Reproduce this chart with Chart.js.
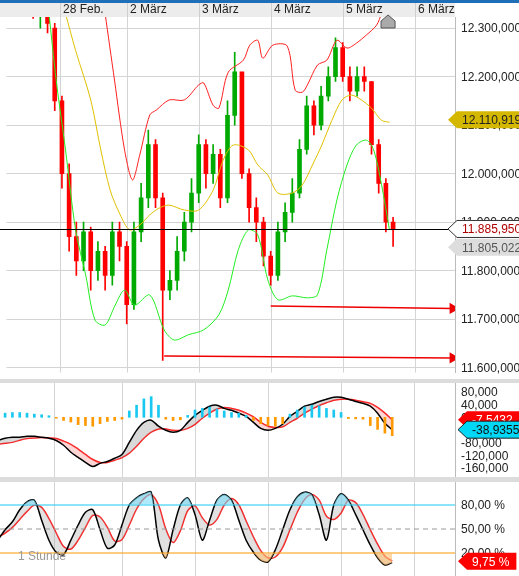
<!DOCTYPE html>
<html>
<head>
<meta charset="utf-8">
<script src="https://cdn.jsdelivr.net/npm/chart.js@4"></script>
<style>
body { margin: 0; background: #fff; }
#wrap { position: relative; width: 519px; height: 576px; background: #dcdcdc; }
.pane { position: absolute; left: 0; width: 519px; background: #fff; }
</style>
</head>
<body>
<div id="wrap">
  <div class="pane" style="top:0;height:379px"><canvas id="main" width="519" height="379"></canvas></div>
  <div class="pane" style="top:383px;height:94px"><canvas id="macd" width="519" height="94"></canvas></div>
  <div class="pane" style="top:482px;height:94px"><canvas id="stoch" width="519" height="94"></canvas></div>
</div>
<script>
const dateLabels = ["28 Feb.", "2 März", "3 März", "4 März", "5 März", "6 März"];
const datePos = [3.7, 13, 23, 33, 43, 53];

const opens = [12360,12330,12340,12300,12150,12000,11870,11820,11880,11800,11840,11790,11880,11850,11730,11880,11950,12060,11950,11760,11780,11840,11900,11960,12060,12000,12040,11950,12120,12210,12000,11930,11900,11830,11790,11880,11920,11960,12050,12140,12100,12160,12200,12260,12200,12170,12200,12190,12060,11980,11900];
const closes = [12330,12340,12310,12150,12000,11870,11820,11880,11800,11840,11790,11880,11850,11730,11880,11950,12060,11950,11760,11780,11840,11900,11960,12060,12000,12040,11950,12120,12210,12000,11930,11900,11830,11790,11880,11920,11960,12050,12140,12100,12160,12200,12260,12200,12170,12200,12190,12060,11980,11900,11886];
const highs = [12380,12360,12350,12310,12160,12020,11900,11900,11890,11860,11850,11900,11900,11860,11900,11980,12090,12070,11960,11800,11870,11920,11990,12080,12070,12060,12050,12150,12250,12200,12010,11950,11910,11840,11900,11940,11990,12070,12160,12150,12180,12220,12280,12270,12220,12220,12220,12190,12070,11990,11910];
const lows = [12320,12300,12290,12130,11970,11840,11790,11800,11760,11780,11760,11770,11820,11690,11720,11860,11930,11930,11615,11740,11760,11820,11880,11940,11970,11980,11930,11940,12100,11990,11900,11860,11810,11770,11780,11860,11900,11950,12040,12080,12090,12150,12190,12190,12150,12160,12170,12040,11960,11880,11850];

// Bollinger bands: [candle index, value]
const upperBand = [[10,12330],[11.3,12193],[12.7,12049],[13.8,11987],[14.8,12038],[16.2,12121],[17.1,12131],[18.9,12152],[21,12152],[23,12183],[23.7,12187],[25,12141],[25.8,12135],[27.1,12209],[29.2,12234],[30.1,12265],[31.2,12275],[31.9,12238],[33.3,12265],[35.3,12263],[36.4,12172],[37.4,12168],[38.1,12183],[39.5,12224],[40.8,12234],[42.2,12275],[43.6,12259],[44.9,12269],[46.3,12286],[47.7,12306],[48.4,12330]];
const midBand = [[4.5,12330],[5.9,12254],[8,12152],[9.4,12049],[10.7,11966],[12.1,11915],[13.4,11884],[14.8,11894],[16.2,11915],[17.5,11929],[18.9,11935],[21,11925],[23,11925],[25,11966],[26.4,12028],[27.8,12059],[29.9,12049],[31.2,12018],[32.6,11997],[34,11960],[36,11960],[37.4,11977],[38.8,12018],[40.1,12059],[41.5,12110],[42.9,12152],[44.2,12162],[45.6,12152],[47,12135],[48.4,12110],[49.5,12106]];
const lowerBand = [[2.2,12330],[3.2,12193],[4.5,12049],[5.9,11884],[7.3,11791],[8.6,11698],[10,11688],[11.4,11729],[12.7,11760],[14.1,11729],[16.2,11750],[18.2,11678],[19.6,11657],[21.6,11668],[23.7,11678],[25.8,11709],[27.1,11760],[28.5,11843],[29.9,11884],[31.2,11874],[32.6,11781],[34,11740],[36,11748],[38.1,11744],[39.5,11750],[40.8,11843],[42.2,11946],[43.6,12018],[44.9,12059],[46.3,12069],[47.3,12049],[48.4,11977],[49.5,11884]];

const arrowHigh = [[33, 11727], [58.3, 11722]];
const arrowLow = [[18.2, 11624], [58.3, 11620]];

// indicators, candle index -4 .. 50
const macdLine = [-73,-66,-63,-63,-60,-60,-63,-66,-73,-88,-110,-126,-142,-155,-145,-139,-129,-117,-79,-41,-16,-9,-28,-41,-47,-41,-16,6,22,35,38,28,22,13,3,-16,-35,-41,-35,-22,3,19,35,41,50,57,63,63,57,50,44,35,13,-19,-39];
const signalLine = [-85,-82,-79,-72,-67,-65,-64,-65,-67,-75,-85,-100,-117,-133,-142,-142,-135,-127,-113,-91,-66,-47,-37,-37,-41,-41,-35,-22,-3,13,26,31,28,22,13,1,-16,-28,-32,-30,-16,-3,13,26,37,46,54,57,57,54,49,44,31,13,-8];
const macdHist = [13,13,15,15,13,10,8,5,-3,-10,-15,-23,-26,-28,-20,-13,-10,-6,20,38,58,65,38,-6,-10,-8,6,23,28,32,26,20,15,13,6,-10,-20,-26,-28,-20,10,23,32,38,36,28,23,15,-4,-5,-6,-26,-38,-50,-58];
const stochK = [36,49,59,74,84,86,61,36,21,18,36,55,71,74,49,26,30,55,80,89,94,96,36,14,49,80,89,68,36,61,86,93,86,61,36,21,11,9,24,49,74,90,96,93,68,36,80,94,86,68,49,30,14,5,8];
const stochD = [40,45,52,62,72,80,77,63,45,28,25,36,52,67,65,52,35,37,55,75,88,93,80,50,33,48,73,79,64,55,62,80,88,80,60,40,23,14,15,27,49,71,87,93,86,66,62,70,86,83,68,49,31,16,10];

const mainTicks = [11600, 11700, 11800, 11900, 12000, 12100, 12200, 12300];
const macdTicks = [80, 40, 0, -40, -80, -120, -160];
const stochTicks = [80, 50, 20];

const X_MIN = -3.7, X_MAX = 58.6;
const fmt = (v, d) => v.toLocaleString('de-DE', { minimumFractionDigits: d, maximumFractionDigits: d });
const pts = arr => arr.map(p => ({ x: p[0], y: p[1] }));
const ind = arr => arr.map((v, i) => ({ x: i - 4, y: v }));

const xScale = () => ({ type: 'linear', min: X_MIN, max: X_MAX, offset: false, display: false });

function yScale(min, max, tickList, showGrid) {
    return {
        position: 'right', min: min, max: max,
        afterFit: s => { s.width = 64; },
        afterBuildTicks: s => { s.ticks = tickList.map(v => ({ value: v })); },
        ticks: { display: false },
        grid: { display: showGrid, color: '#d4d4d4', drawTicks: false },
        border: { color: '#bbb' }
    };
}

// vertical day separators
const dayLines = {
    id: 'dayLines',
    beforeDatasetsDraw(chart) {
        const ctx = chart.ctx, xs = chart.scales.x, a = chart.chartArea;
        ctx.save();
        ctx.fillStyle = '#d4d4d4';
        datePos.forEach(v => ctx.fillRect(Math.round(xs.getPixelForValue(v)), a.top, 1, a.bottom - a.top));
        ctx.restore();
    }
};

function axisLabels(chart, list, cb) {
    const ctx = chart.ctx, ys = chart.scales.y;
    ctx.save();
    ctx.font = '12px Liberation Sans'; ctx.fillStyle = '#222'; ctx.textBaseline = 'middle';
    list.forEach(v => ctx.fillText(cb(v), 461, ys.getPixelForValue(v) + 1));
    ctx.restore();
}

function tag(ctx, x, y, text, bg, fg, border) {
    ctx.save();
    ctx.font = '12px Liberation Sans';
    const w = ctx.measureText(text).width + 12, h = 17;
    ctx.beginPath();
    ctx.moveTo(x, y);
    ctx.lineTo(x + 9, y - h / 2);
    ctx.lineTo(x + 9 + w, y - h / 2);
    ctx.lineTo(x + 9 + w, y + h / 2);
    ctx.lineTo(x + 9, y + h / 2);
    ctx.closePath();
    ctx.fillStyle = bg; ctx.fill();
    if (border) { ctx.strokeStyle = border; ctx.lineWidth = 1; ctx.stroke(); }
    ctx.fillStyle = fg; ctx.textBaseline = 'middle';
    ctx.fillText(text, x + 14, y + 1);
    ctx.restore();
}

const mainDecor = {
    id: 'mainDecor',
    afterDraw(chart) {
        const ctx = chart.ctx, xs = chart.scales.x, ys = chart.scales.y;
        axisLabels(chart, mainTicks, v => fmt(v, 3));
        ctx.save();
        ctx.fillStyle = '#1e6fb8'; ctx.fillRect(0, 0, 519, 3);
        ctx.fillStyle = '#ececec'; ctx.fillRect(0, 3, 455, 14);
        ctx.fillStyle = '#fff'; ctx.fillRect(455, 3, 64, 14);
        ctx.font = '12px Liberation Sans'; ctx.textBaseline = 'middle';
        datePos.forEach((v, i) => {
            const px = Math.round(xs.getPixelForValue(v));
            ctx.fillStyle = '#cfcfcf'; ctx.fillRect(px, 3, 1, 14);
            ctx.fillStyle = '#222'; ctx.fillText(dateLabels[i], px + 3, 10);
        });
        // house marker
        const hx = xs.getPixelForValue(49.3), hy = 22;
        ctx.beginPath();
        ctx.moveTo(hx, hy - 7); ctx.lineTo(hx + 7, hy - 1); ctx.lineTo(hx + 7, hy + 6);
        ctx.lineTo(hx - 7, hy + 6); ctx.lineTo(hx - 7, hy - 1); ctx.closePath();
        ctx.fillStyle = '#aaa'; ctx.fill(); ctx.strokeStyle = '#555'; ctx.stroke();
        // crosshair at last price
        const cy = Math.round(ys.getPixelForValue(11885.95)) + 0.5;
        ctx.beginPath(); ctx.moveTo(0, cy); ctx.lineTo(455, cy);
        ctx.strokeStyle = '#000'; ctx.lineWidth = 1; ctx.stroke();
        ctx.restore();
        tag(ctx, 448, ys.getPixelForValue(12110.919), '12.110,919', '#d4b800', '#222');
        tag(ctx, 448, ys.getPixelForValue(11848), '11.805,022', '#ddd', '#555');
        tag(ctx, 448, ys.getPixelForValue(11885.95), '11.885,950', '#fff', '#b00000', '#333');
    }
};

new Chart(document.getElementById('main'), {
    data: {
        datasets: [
            { type: 'line', data: pts(upperBand), borderColor: '#ff2020', borderWidth: 1, pointRadius: 0, tension: 0.3 },
            { type: 'line', data: pts(midBand), borderColor: '#e0c000', borderWidth: 1, pointRadius: 0, tension: 0.3 },
            { type: 'line', data: pts(lowerBand), borderColor: '#22ee22', borderWidth: 1, pointRadius: 0, tension: 0.3 },
            { type: 'bar', grouped: false, barThickness: 1, data: lows.map((v, i) => ({ x: i, y: [v, highs[i]] })),
              backgroundColor: closes.map((c, i) => c >= opens[i] ? '#00aa00' : '#ff0000') },
            { type: 'bar', grouped: false, barThickness: 4, data: opens.map((v, i) => ({ x: i, y: [v, closes[i]] })),
              backgroundColor: closes.map((c, i) => c >= opens[i] ? '#00aa00' : '#ff0000') },
            { type: 'line', data: pts(arrowHigh), borderColor: '#ee0000', borderWidth: 1.5, pointRadius: [0, 5],
              pointStyle: 'triangle', rotation: 90, pointBackgroundColor: '#ee0000', pointBorderColor: '#ee0000' },
            { type: 'line', data: pts(arrowLow), borderColor: '#ee0000', borderWidth: 1.5, pointRadius: [0, 5],
              pointStyle: 'triangle', rotation: 90, pointBackgroundColor: '#ee0000', pointBorderColor: '#ee0000' }
        ]
    },
    options: {
        responsive: false, animation: false,
        layout: { padding: { top: 17 } },
        plugins: { legend: { display: false }, tooltip: { enabled: false } },
        scales: {
            x: xScale(),
            y: yScale(11590, 12323, mainTicks, true)
        }
    },
    plugins: [dayLines, mainDecor]
});

const macdDecor = {
    id: 'macdDecor',
    afterDraw(chart) {
        const ys = chart.scales.y;
        axisLabels(chart, macdTicks, v => fmt(v, 3));
        tag(chart.ctx, 458, ys.getPixelForValue(-7.5432), '-7,5432', '#ff0000', '#fff');
        tag(chart.ctx, 458, ys.getPixelForValue(-38.9355), '-38,9355', '#00d8f8', '#111', '#222');
    }
};

new Chart(document.getElementById('macd'), {
    data: {
        datasets: [
            { type: 'bar', grouped: false, barThickness: 2, data: ind(macdHist),
              backgroundColor: macdHist.map(v => v >= 0 ? '#19c8f0' : '#ff9900') },
            { type: 'line', data: ind(macdLine), borderColor: '#000', borderWidth: 1.5, pointRadius: 0, tension: 0.3,
              fill: { target: 2, above: 'rgba(160,160,160,0.4)', below: 'rgba(255,120,120,0.3)' } },
            { type: 'line', data: ind(signalLine), borderColor: '#ff1a1a', borderWidth: 1.5, pointRadius: 0, tension: 0.3 }
        ]
    },
    options: {
        responsive: false, animation: false,
        plugins: { legend: { display: false }, tooltip: { enabled: false }, filler: { propagate: false } },
        scales: {
            x: xScale(),
            y: yScale(-188, 108, macdTicks, false)
        }
    },
    plugins: [dayLines, macdDecor]
});

const stochDecor = {
    id: 'stochDecor',
    afterDraw(chart) {
        const ctx = chart.ctx, ys = chart.scales.y;
        axisLabels(chart, stochTicks, v => fmt(v, 2) + ' %');
        ctx.save();
        ctx.font = '12px Liberation Sans'; ctx.fillStyle = '#999'; ctx.textBaseline = 'middle';
        ctx.fillText('1 Stunde', 18, 75);
        ctx.restore();
        tag(ctx, 458, ys.getPixelForValue(9.75), '9,75 %', '#ff0000', '#fff');
    }
};

const level = v => [{ x: X_MIN, y: v }, { x: X_MAX, y: v }];
new Chart(document.getElementById('stoch'), {
    data: {
        datasets: [
            { type: 'line', data: ind(stochK), borderColor: 'rgba(0,0,0,0)', pointRadius: 0, tension: 0.3,
              fill: { value: 80, above: 'rgba(120,220,245,0.6)', below: 'rgba(0,0,0,0)' } },
            { type: 'line', data: ind(stochK), borderColor: 'rgba(0,0,0,0)', pointRadius: 0, tension: 0.3,
              fill: { value: 20, above: 'rgba(0,0,0,0)', below: 'rgba(255,190,110,0.6)' } },
            { type: 'line', data: level(80), borderColor: '#19c8f0', borderWidth: 1, pointRadius: 0 },
            { type: 'line', data: level(50), borderColor: '#999', borderWidth: 1, borderDash: [5, 4], pointRadius: 0 },
            { type: 'line', data: level(20), borderColor: '#ff9900', borderWidth: 1, pointRadius: 0 },
            { type: 'line', data: ind(stochK), borderColor: '#000', borderWidth: 1.5, pointRadius: 0, tension: 0.3,
              fill: { target: 6, above: 'rgba(170,170,170,0.35)', below: 'rgba(170,170,170,0.35)' } },
            { type: 'line', data: ind(stochD), borderColor: '#ff1a1a', borderWidth: 1.5, pointRadius: 0, tension: 0.3 }
        ]
    },
    options: {
        responsive: false, animation: false,
        plugins: { legend: { display: false }, tooltip: { enabled: false }, filler: { propagate: false } },
        scales: {
            x: xScale(),
            y: yScale(-8.75, 108.75, stochTicks, false)
        }
    },
    plugins: [dayLines, stochDecor]
});
</script>
</body>
</html>
